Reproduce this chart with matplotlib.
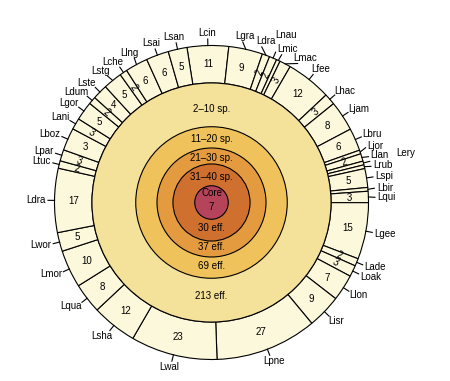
import numpy as np
import matplotlib
matplotlib.use('Agg')
import matplotlib.pyplot as plt
from matplotlib.patches import Wedge, Circle

plt.rcParams['font.family'] = ['Liberation Sans', 'DejaVu Sans']

# inner rings, from the core outward
ring_names = ['Core', '31\u201340 sp.', '21\u201330 sp.', '11\u201320 sp.', '2\u201310 sp.']
ring_counts = [7, 30, 37, 69, 213]
ring_colors = ['#b5445a', '#d0702f', '#e49b40', '#f0c25b', '#f5e29a']

# outer ring, clockwise from the top
genera = ['Lcin', 'Lgra', 'Ldra', 'Lnau', 'Lmic', 'Lmac', 'Lfee', 'Lhac', 'Ljam', 'Lbru',
          'Ljor', 'Llan', 'Lery', 'Lrub', 'Lspi', 'Lbir', 'Lqui', 'Lgee', 'Lade', 'Loak',
          'Llon', 'Lisr', 'Lpne', 'Lwal', 'Lsha', 'Lqua', 'Lmor', 'Lwor', 'Ldra', 'Ltuc',
          'Lpar', 'Lboz', 'Lani', 'Lgor', 'Ldum', 'Lste', 'Lstg', 'Lche', 'Llng', 'Lsai', 'Lsan']
counts = [11, 9, 2, 2, 1, 3, 12, 3, 8, 6,
          1, 2, 1, 1, 5, 1, 3, 15, 2, 3,
          7, 9, 27, 23, 12, 8, 10, 5, 17, 2,
          3, 3, 3, 5, 2, 4, 5, 2, 6, 6, 5]
# segment sizes as drawn (Lboz is drawn about twice as wide as its label says)
spans = list(counts)
spans[genera.index('Lboz')] = 6

outer_color = '#fcf8dc'
pushed_out = {'Lery': 25, 'Lnau': 12}   # labels set further out in the reference

fig = plt.figure(figsize=(4.5, 3.81), dpi=100)
ax = fig.add_axes([0, 0, 1, 1])
ax.set_xlim(-211.5, 238.5)
ax.set_ylim(-178.5, 202.5)
ax.set_aspect('equal')
ax.axis('off')

# radii so that ring areas follow the counts
R_out = 157.0
k = R_out / np.sqrt(sum(ring_counts) + sum(spans))
radii = k * np.sqrt(np.cumsum(ring_counts))
R_in = radii[-1]


def polar(r, b):
    t = np.radians(b)
    return r * np.sin(t), r * np.cos(t)


# outer ring wedges
start = -9.0
per = 360.0 / sum(spans)
edges = start + per * np.concatenate([[0], np.cumsum(spans)])
mids = (edges[:-1] + edges[1:]) / 2
for b1, b2 in zip(edges[:-1], edges[1:]):
    ax.add_patch(Wedge((0, 0), R_out, 90 - b2, 90 - b1, width=R_out - R_in,
                       facecolor=outer_color, edgecolor='black', lw=0.8))

# inner rings, largest first
for r, c in zip(radii[::-1], ring_colors[::-1]):
    ax.add_patch(Circle((0, 0), r, facecolor=c, edgecolor='black', lw=0.8))

fs = 7
ax.text(0, 2.5, 'Core\n' + str(ring_counts[0]), ha='center', va='center',
        fontsize=fs, linespacing=1.4)
for i in range(1, len(radii)):
    rr = radii[i - 1] + 0.4 * (radii[i] - radii[i - 1])
    ax.text(0, rr, ring_names[i], ha='center', va='center', fontsize=fs)
    ax.text(0, -rr, '%d eff.' % ring_counts[i], ha='center', va='center', fontsize=fs)

# numbers inside segments
r_mid = (R_in + R_out) / 2
for n, s, b in zip(counts, spans, mids):
    if n < 2:
        continue
    rot = 0
    if s <= 3:
        rot = 90 - b
        while rot > 90:
            rot -= 180
        while rot <= -90:
            rot += 180
    x, y = polar(r_mid, b)
    ax.text(x, y, str(n), ha='center', va='center', fontsize=fs, rotation=rot)

# outer labels
fig.canvas.draw()
renderer = fig.canvas.get_renderer()
texts = []
sizes = []
for name in genera:
    t = ax.text(0, 0, name, ha='center', va='center', fontsize=fs)
    bb = t.get_window_extent(renderer)
    texts.append(t)
    sizes.append((bb.width, bb.height * 0.8))

r_anchor = R_out + 9
lab_b = mids.copy()


def center(i, b):
    extra = pushed_out.get(genera[i], 0)
    x, y = polar(r_anchor + extra, b)
    t = np.radians(b)
    w, h = sizes[i]
    return x + np.sin(t) * w / 2, y + np.cos(t) * h / 2


stack = [i for i in range(len(genera)) if genera[i] not in pushed_out]
for it in range(600):
    moved = False
    for a, c in zip(stack, stack[1:] + stack[:1]):
        xa, ya = center(a, lab_b[a])
        xc, yc = center(c, lab_b[c])
        wa, ha_ = sizes[a]
        wc, hc = sizes[c]
        if abs(xa - xc) < (wa + wc) / 2 + 1 and abs(ya - yc) < (ha_ + hc) / 2 + 1:
            lab_b[a] -= 0.2
            lab_b[c] += 0.2
            moved = True
    if not moved:
        break

for i, t in enumerate(texts):
    x, y = center(i, lab_b[i])
    t.set_position((x, y))
    x0, y0 = polar(R_out, mids[i])
    x1, y1 = polar(R_out + 6.5, lab_b[i])
    ax.plot([x0, x1], [y0, y1], color='black', lw=0.8)

fig.savefig('out.png', dpi=100)
